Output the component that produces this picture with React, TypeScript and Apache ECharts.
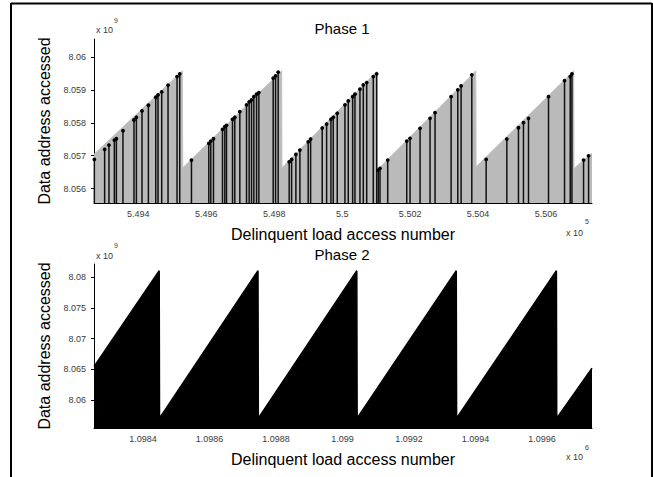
import React, { useEffect, useRef } from "react";
import * as echarts from "echarts";

// ---------- Phase 1 (x in units of 10^5, y in units of 10^9) ----------
const X1_TICKS = [5.494, 5.496, 5.498, 5.5, 5.502, 5.504, 5.506];
const Y1_TICKS = [8.056, 8.057, 8.058, 8.059, 8.06];
const X1_RANGE = [5.4927, 5.50735];
const Y1_RANGE = [8.05556, 8.06055];

// sawtooth envelope (gray area)
const ENV1_X = [5.4927, 5.4953, 5.49531, 5.49822, 5.49823, 5.50102, 5.50103, 5.50393, 5.50394, 5.50681, 5.50682, 5.50735];
const ENV1_Y = [8.05704, 8.05958, 8.05663, 8.05958, 8.05663, 8.05956, 8.05656, 8.05958, 8.05666, 8.05958, 8.05661, 8.05708];

// stems
const STEM1_X = [
  5.49271, 5.493013, 5.49314, 5.493299, 5.493358, 5.493552, 5.493876, 5.493947, 5.494112, 5.4943,
  5.494516, 5.494583, 5.494692, 5.494878, 5.495143, 5.495222,
  5.495567, 5.496077, 5.496136, 5.496215, 5.49648, 5.496548, 5.496598, 5.496775, 5.496842, 5.49699,
  5.497187, 5.497264, 5.497334, 5.497402, 5.497482, 5.497549, 5.497971, 5.498041, 5.498118,
  5.498442, 5.498513, 5.498639, 5.498757, 5.499001, 5.499072, 5.499414, 5.499543, 5.49967, 5.499738,
  5.499856, 5.500082, 5.50018, 5.500309, 5.500377, 5.500524, 5.500622, 5.500722, 5.500916, 5.501016,
  5.501063, 5.501113, 5.50134, 5.5019, 5.501997, 5.502292, 5.502586, 5.502733, 5.503205, 5.503402,
  5.503499, 5.503814,
  5.504236, 5.504845, 5.505187, 5.505334, 5.505482, 5.506071, 5.506542, 5.50671, 5.50676,
  5.507102, 5.507249,
];
const STEM1_Y = [
  8.056886, 8.057191, 8.057323, 8.057475, 8.057515, 8.057759, 8.058085, 8.058168, 8.05836, 8.058534,
  8.058778, 8.058848, 8.05894, 8.059144, 8.059407, 8.059489,
  8.056865, 8.057374, 8.057445, 8.057515, 8.057802, 8.057881, 8.057924, 8.058107, 8.058168, 8.058339,
  8.058543, 8.058635, 8.058696, 8.058796, 8.05887, 8.058919, 8.059358, 8.059428, 8.059541,
  8.056813, 8.056886, 8.057039, 8.05717, 8.057423, 8.057506, 8.057841, 8.057963, 8.058107, 8.058168,
  8.05829, 8.058543, 8.058665, 8.058796, 8.05887, 8.059022, 8.059154, 8.059224, 8.059407, 8.059489,
  8.05656, 8.056612, 8.056865, 8.057445, 8.057527, 8.057832, 8.058137, 8.058308, 8.058796, 8.059001,
  8.059123, 8.059459,
  8.056886, 8.057506, 8.05785, 8.058003, 8.058137, 8.058796, 8.059285, 8.059407, 8.059489,
  8.056865, 8.056996,
];

// ---------- Phase 2 (x in units of 10^6, y in units of 10^9) ----------
const X2_TICKS = [1.0984, 1.0986, 1.0988, 1.099, 1.0992, 1.0994, 1.0996];
const Y2_TICKS = [8.06, 8.065, 8.07, 8.075, 8.08];
const X2_RANGE = [1.098253, 1.09975];
const Y2_RANGE = [8.05546, 8.08213];

const ENV2_X = [1.098253, 1.098449, 1.09845, 1.098746, 1.098747, 1.099043, 1.099044, 1.099342, 1.099343, 1.099643, 1.099644, 1.09975];
const ENV2_Y = [8.06543, 8.08104, 8.05704, 8.08104, 8.05704, 8.08104, 8.05704, 8.08104, 8.05704, 8.08104, 8.05704, 8.06517];

const TITLES = ["Phase 1", "Phase 2"];
const X_NAME = "Delinquent load access number";
const Y_NAME = "Data address accessed";
const X_EXPONENTS = ["5", "6"];
const Y_EXPONENTS = ["9", "9"];

const FONT = '"Liberation Sans", Arial, Helvetica, sans-serif';
const TICK_FONT = '"Liberation Sans", Arial, sans-serif';

const fmt = (v: number) => String(Number(v.toFixed(5)));

function zip(xs: number[], ys: number[]) {
  return xs.map((x, i) => [x, ys[i]]);
}

function makeX(gridIndex: number, range: number[], ticks: number[]) {
  return {
    type: "value",
    gridIndex,
    min: range[0],
    max: range[1],
    axisLine: { show: true, onZero: false, lineStyle: { color: "#000", width: 1 } },
    axisTick: { show: true, inside: true, length: 3, customValues: ticks, lineStyle: { color: "#000" } },
    axisLabel: {
      customValues: ticks,
      formatter: (v: number) => fmt(v),
      fontSize: 9,
      fontFamily: TICK_FONT,
      color: "#3a3a3a",
      margin: 6,
    },
    splitLine: { show: false },
    name: X_NAME,
    nameLocation: "middle",
    nameGap: 23,
    nameTextStyle: { fontSize: 16, fontFamily: FONT, color: "#000" },
  };
}

function makeY(gridIndex: number, range: number[], ticks: number[]) {
  return {
    type: "value",
    gridIndex,
    min: range[0],
    max: range[1],
    axisLine: { show: true, onZero: false, lineStyle: { color: "#000", width: 1 } },
    axisTick: { show: true, inside: false, length: 3, customValues: ticks, lineStyle: { color: "#000" } },
    axisLabel: {
      customValues: ticks,
      formatter: (v: number) => fmt(v),
      fontSize: 9,
      fontFamily: TICK_FONT,
      color: "#3a3a3a",
      margin: 8,
    },
    splitLine: { show: false },
    name: Y_NAME,
    nameLocation: "middle",
    nameGap: 30,
    nameTextStyle: { fontSize: 16, fontFamily: FONT, color: "#000" },
  };
}

function stemRender(params: any, api: any) {
  const x = api.value(0);
  const y = api.value(1);
  const top = api.coord([x, y]);
  const cs = params.coordSys;
  const baseY = cs.y + cs.height;
  return {
    type: "group",
    children: [
      {
        type: "line",
        shape: { x1: top[0], y1: top[1], x2: top[0], y2: baseY },
        style: { stroke: "#111", lineWidth: 1.5 },
      },
      {
        type: "circle",
        shape: { cx: top[0], cy: top[1], r: 1.9 },
        style: { fill: "#000" },
      },
    ],
  };
}

function expText(left: number, baseY: number, supLeft: number, supY: number, sup: string) {
  return [
    {
      type: "text",
      x: left,
      y: baseY,
      style: { text: "x 10", fontSize: 9, fontFamily: FONT, fill: "#3a3a3a", textAlign: "left", textVerticalAlign: "middle" },
    },
    {
      type: "text",
      x: supLeft,
      y: supY,
      style: { text: sup, fontSize: 7, fontFamily: FONT, fill: "#3a3a3a", textAlign: "left", textVerticalAlign: "middle" },
    },
  ];
}

export default function App() {
  const ref = useRef<HTMLDivElement>(null);
  useEffect(() => {
    if (!ref.current) return;
    const chart = echarts.init(ref.current, undefined, { renderer: "svg" });
    const option = {
      animation: false,
      backgroundColor: "#fff",
      grid: [
        { left: 94, top: 39, width: 498, height: 164, containLabel: false },
        { left: 94, top: 264, width: 498, height: 164, containLabel: false },
      ],
      xAxis: [makeX(0, X1_RANGE, X1_TICKS), makeX(1, X2_RANGE, X2_TICKS)],
      yAxis: [makeY(0, Y1_RANGE, Y1_TICKS), makeY(1, Y2_RANGE, Y2_TICKS)],
      series: [
        {
          type: "line",
          xAxisIndex: 0,
          yAxisIndex: 0,
          data: zip(ENV1_X, ENV1_Y),
          showSymbol: false,
          lineStyle: { color: "#c2c2c2", width: 1 },
          areaStyle: { color: "#bababa", opacity: 1, origin: "start" },
          z: 1,
        },
        {
          type: "custom",
          xAxisIndex: 0,
          yAxisIndex: 0,
          data: zip(STEM1_X, STEM1_Y),
          renderItem: stemRender,
          encode: { x: 0, y: 1 },
          z: 3,
        },
        {
          type: "line",
          xAxisIndex: 1,
          yAxisIndex: 1,
          data: zip(ENV2_X, ENV2_Y),
          showSymbol: false,
          lineStyle: { color: "#000", width: 1.5 },
          areaStyle: { color: "#000", opacity: 1, origin: "start" },
          z: 1,
        },
      ],
      graphic: [
        { type: "line", shape: { x1: 11, y1: 3.5, x2: 652, y2: 3.5 }, style: { stroke: "#000", lineWidth: 2 } },
        { type: "line", shape: { x1: 11, y1: 3, x2: 11, y2: 477 }, style: { stroke: "#000", lineWidth: 2 } },
        { type: "line", shape: { x1: 652, y1: 3, x2: 652, y2: 477 }, style: { stroke: "#000", lineWidth: 2 } },
        {
          type: "text",
          x: 342,
          y: 28.5,
          style: { text: TITLES[0], fontSize: 15, fontFamily: FONT, fill: "#000", textAlign: "center", textVerticalAlign: "middle" },
        },
        {
          type: "text",
          x: 342,
          y: 254,
          style: { text: TITLES[1], fontSize: 15, fontFamily: FONT, fill: "#000", textAlign: "center", textVerticalAlign: "middle" },
        },
        ...expText(96, 29.5, 114, 20, Y_EXPONENTS[0]),
        ...expText(96, 255.5, 114, 245.5, Y_EXPONENTS[1]),
        ...expText(566, 233, 585, 221, X_EXPONENTS[0]),
        ...expText(566, 456.5, 585, 447, X_EXPONENTS[1]),
      ],
    };
    chart.setOption(option as any);
    return () => chart.dispose();
  }, []);
  return (
    <div
      ref={ref}
      style={{ position: "fixed", left: 0, top: 0, width: 653, height: 477, background: "#fff" }}
    />
  );
}
